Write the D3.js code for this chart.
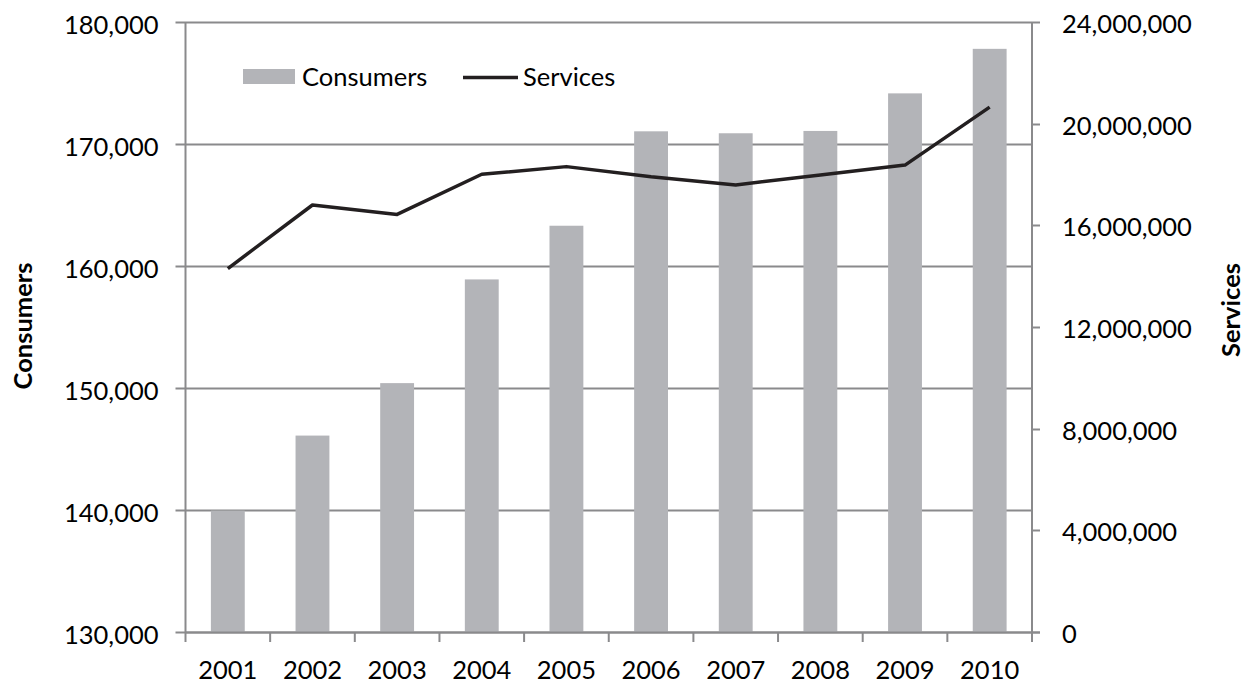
<!DOCTYPE html>
<html>
<head>
<meta charset="utf-8">
<script src="https://cdn.jsdelivr.net/npm/d3@7"></script>
<style>
  html, body { margin: 0; padding: 0; background: #fff; }
  svg { display: block; font-family: Lato, "Open Sans", sans-serif; }
</style>
</head>
<body>
<svg id="chart" width="1245" height="685"></svg>
<script>
// Yearly figures
const years = ["2001", "2002", "2003", "2004", "2005", "2006", "2007", "2008", "2009", "2010"];
const consumers = [139950, 146100, 150400, 158900, 163300, 171040, 170880, 171070, 174150, 177800];
const services = [14300000, 16800000, 16430000, 18010000, 18310000, 17910000, 17590000, 17980000, 18370000, 20650000];
const consumerTicks = [130000, 140000, 150000, 160000, 170000, 180000];
const serviceTicks = [0, 4000000, 8000000, 12000000, 16000000, 20000000, 24000000];

(function () {
  const svg = d3.select("#chart");
  const plotL = 185.5, plotR = 1032, plotT = 22, plotB = 632;
  const gridColor = "#8a8a8c";
  const barColor = "#b3b4b8";
  const lineColor = "#231f20";
  const fontSize = 25.5;

  const x = d3.scaleBand().domain(years).range([plotL, plotR]).padding(0);
  const yL = d3.scaleLinear().domain([130000, 180000]).range([plotB, plotT]);
  const yR = d3.scaleLinear().domain([0, 24000000]).range([plotB, plotT]);
  const fmt = d3.format(",");

  // Horizontal gridlines with outward left ticks
  svg.append("g").selectAll("line")
    .data(consumerTicks)
    .join("line")
    .attr("x1", plotL - 10).attr("x2", plotR)
    .attr("y1", d => Math.round(yL(d)) + 0.5).attr("y2", d => Math.round(yL(d)) + 0.5)
    .attr("stroke", gridColor).attr("stroke-width", 2);

  // Left axis labels
  svg.append("g").selectAll("text")
    .data(consumerTicks)
    .join("text")
    .attr("x", plotL - 27).attr("y", d => yL(d) + 1.5)
    .attr("text-anchor", "end").attr("dominant-baseline", "central")
    .attr("font-size", fontSize).attr("fill", "#000")
    .text(d => fmt(d));

  // Bars
  const barW = x.bandwidth() * 0.4;
  svg.append("g").selectAll("rect")
    .data(years.map((yr, i) => ({ yr, v: consumers[i] })))
    .join("rect")
    .attr("x", d => x(d.yr) + (x.bandwidth() - barW) / 2)
    .attr("width", barW)
    .attr("y", d => yL(d.v))
    .attr("height", d => plotB - yL(d.v))
    .attr("fill", barColor);

  // Left axis line
  svg.append("line")
    .attr("x1", plotL).attr("x2", plotL).attr("y1", plotT).attr("y2", plotB)
    .attr("stroke", gridColor).attr("stroke-width", 2);

  // Right axis line, outward ticks and labels
  svg.append("line")
    .attr("x1", plotR).attr("x2", plotR).attr("y1", plotT).attr("y2", plotB)
    .attr("stroke", gridColor).attr("stroke-width", 2);
  svg.append("g").selectAll("line")
    .data(serviceTicks)
    .join("line")
    .attr("x1", plotR).attr("x2", plotR + 8)
    .attr("y1", d => Math.round(yR(d)) + 0.5).attr("y2", d => Math.round(yR(d)) + 0.5)
    .attr("stroke", gridColor).attr("stroke-width", 2);
  svg.append("g").selectAll("text")
    .data(serviceTicks)
    .join("text")
    .attr("x", plotR + 30).attr("y", d => yR(d) + 1)
    .attr("text-anchor", "start").attr("dominant-baseline", "central")
    .attr("font-size", fontSize).attr("fill", "#000")
    .text(d => fmt(d));

  // Bottom axis: baseline, category boundary ticks and year labels
  svg.append("line")
    .attr("x1", plotL).attr("x2", plotR + 8).attr("y1", plotB + 0.5).attr("y2", plotB + 0.5)
    .attr("stroke", gridColor).attr("stroke-width", 2);
  const bounds = years.map(d => x(d)).concat([plotR]);
  svg.append("g").selectAll("line")
    .data(bounds)
    .join("line")
    .attr("x1", d => d).attr("x2", d => d)
    .attr("y1", plotB).attr("y2", plotB + 10)
    .attr("stroke", gridColor).attr("stroke-width", 2);
  svg.append("g").selectAll("text")
    .data(years)
    .join("text")
    .attr("x", d => x(d) + x.bandwidth() / 2).attr("y", 679)
    .attr("text-anchor", "middle")
    .attr("font-size", fontSize).attr("fill", "#000")
    .text(d => d);

  // Services line
  const line = d3.line()
    .x((d, i) => x(years[i]) + x.bandwidth() / 2)
    .y(d => yR(d));
  svg.append("path")
    .datum(services)
    .attr("d", line)
    .attr("fill", "none")
    .attr("stroke", lineColor)
    .attr("stroke-width", 3.5)
    .attr("stroke-linejoin", "round");

  // Axis titles
  svg.append("text")
    .attr("transform", "translate(32,326) rotate(-90)")
    .attr("text-anchor", "middle")
    .attr("font-size", fontSize).attr("font-weight", "bold")
    .text("Consumers");
  svg.append("text")
    .attr("transform", "translate(1240,310) rotate(-90)")
    .attr("text-anchor", "middle")
    .attr("font-size", fontSize).attr("font-weight", "bold")
    .text("Services");

  // Legend
  const legend = svg.append("g");
  legend.append("rect")
    .attr("x", 243).attr("y", 69).attr("width", 52).attr("height", 15)
    .attr("fill", barColor);
  legend.append("text")
    .attr("x", 302).attr("y", 86)
    .attr("font-size", fontSize).text("Consumers");
  legend.append("line")
    .attr("x1", 463).attr("x2", 518).attr("y1", 77.5).attr("y2", 77.5)
    .attr("stroke", lineColor).attr("stroke-width", 3.5);
  legend.append("text")
    .attr("x", 523).attr("y", 86)
    .attr("font-size", fontSize).text("Services");
})();
</script>
</body>
</html>
